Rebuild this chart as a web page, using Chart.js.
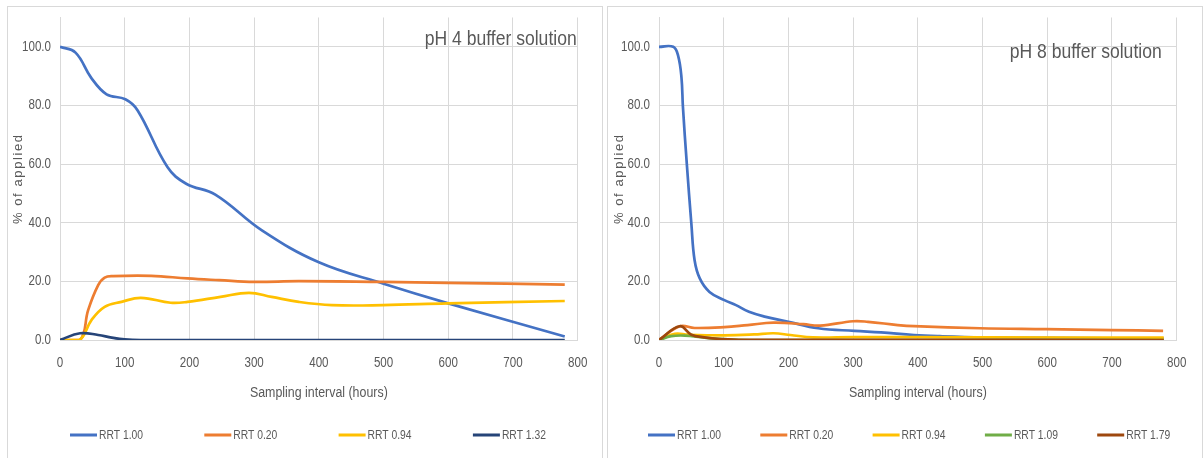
<!DOCTYPE html>
<html><head><meta charset="utf-8">
<script src="https://cdn.jsdelivr.net/npm/chart.js@4.4.0/dist/chart.umd.min.js"></script>
<style>
html,body{margin:0;padding:0;background:#fff;overflow:hidden;width:1203px;height:458px;}
.panel{position:absolute;top:6px;height:470px;border:1px solid #d9d9d9;box-sizing:border-box;background:#fff;}
#p1{left:7px;width:596px;}
#p2{left:607px;width:596px;}
canvas{position:absolute;top:0;}
#c1{left:0;}
#c2{left:604px;}
</style></head><body>
<div class="panel" id="p1"></div><div class="panel" id="p2"></div>
<canvas id="c1" width="604" height="458"></canvas>
<canvas id="c2" width="599" height="458"></canvas>
<script>
// ---------------- DATA ----------------
const xTickValues = [0, 100, 200, 300, 400, 500, 600, 700, 800];
const yTickValues = [0, 20, 40, 60, 80, 100];
const xTitle = 'Sampling interval (hours)';
const yTitle = '% of applied';
const ph4Title = 'pH 4 buffer solution';
const ph8Title = 'pH 8 buffer solution';

// pH 4
const ph4_rrt100_t = [0, 24, 48, 72, 101, 120, 166, 195, 240, 312, 400, 500, 600, 780];
const ph4_rrt100_v = [100, 98, 89.5, 83.8, 82.1, 78.3, 59, 53.3, 49.6, 37.4, 26.5, 19.2, 12.5, 1.2];
const ph4_rrt020_t = [0, 31, 43.5, 59, 69, 82, 141, 197, 246, 300, 369, 499, 599, 780];
const ph4_rrt020_v = [0, 0, 10.2, 18.7, 21.3, 21.8, 21.9, 21.0, 20.4, 19.8, 20.1, 19.8, 19.5, 18.9];
const ph4_rrt094_t = [0, 30, 48.6, 69, 95, 125, 171, 197, 248, 292, 327, 369, 420, 499, 599, 780];
const ph4_rrt094_v = [0, 0, 6.8, 11.3, 13.0, 14.4, 12.7, 13.0, 14.7, 16.1, 14.7, 13.0, 11.9, 11.9, 12.5, 13.3];
const ph4_rrt132_t = [0, 31, 59, 80, 100, 125, 780];
const ph4_rrt132_v = [0, 2.3, 1.7, 0.8, 0.2, 0, 0];

// pH 8
const ph8_rrt100_t = [0, 22, 29.5, 34.7, 37, 43, 50, 55, 63, 78, 101, 119, 139, 165, 200, 246, 302, 343, 394, 434, 500, 600, 780];
const ph8_rrt100_v = [100, 100, 97, 89.6, 79.4, 60, 39.7, 27.2, 21, 16.4, 13.6, 11.9, 9.6, 7.9, 6.2, 4.0, 3.1, 2.6, 1.7, 1.3, 0.9, 0.7, 0.5];
const ph8_rrt020_t = [0, 32, 55, 101, 137, 177, 223, 249, 300, 323, 369, 394, 496, 598, 700, 779];
const ph8_rrt020_v = [0, 4.7, 4.1, 4.4, 5.1, 5.9, 5.4, 4.9, 6.4, 6.2, 5.1, 4.7, 4.0, 3.7, 3.4, 3.1];
const ph8_rrt094_t = [0, 24.5, 45, 101, 147, 177, 203, 238, 300, 500, 780];
const ph8_rrt094_v = [0, 2.1, 1.8, 1.6, 1.9, 2.3, 1.7, 0.9, 1.0, 0.9, 0.8];
const ph8_rrt109_t = [0, 19, 40, 70, 106, 140, 780];
const ph8_rrt109_v = [0, 1.3, 1.5, 0.8, 0.2, 0, 0];
const ph8_rrt179_t = [0, 32, 50, 70, 96, 130, 780];
const ph8_rrt179_v = [0, 4.7, 1.8, 0.9, 0.35, 0.05, 0];

// ---------------- FONTS ----------------
const FAMILY = '"Liberation Sans", Arial, sans-serif';
const CONDENSE = 0.82;            // narrow rendering like the reference
const mctx = document.createElement('canvas').getContext('2d');
function textW(size, text) { mctx.font = size + 'px ' + FAMILY; return mctx.measureText(text).width; }
const tickSize = 29 / (textW(100, '100.0') / 100 * CONDENSE);
const xTitleSize = 138 / (textW(100, xTitle) / 100 * CONDENSE);
const legendSize = 13.5;
const legendCondense = 44 / textW(legendSize, 'RRT 1.00');
const chartTitleSize = 21;
const titleCondense = 152 / textW(chartTitleSize, ph4Title);
const yTitleSize = 13;
const yTitleSpacing = Math.max(0, (89 - textW(yTitleSize, yTitle)) / (yTitle.length - 1));

const TEXT = '#595959';
const GRID = '#d9d9d9';

function condenseContext(ctx) {
  const orig = ctx.fillText;
  ctx._condense = CONDENSE;
  ctx.fillText = function (text, x, y, maxWidth) {
    const f = this._condense;
    if (f === 1) { return maxWidth === undefined ? orig.call(this, text, x, y) : orig.call(this, text, x, y, maxWidth); }
    this.save();
    this.translate(x, y);
    this.scale(f, 1);
    if (maxWidth === undefined) orig.call(this, text, 0, 0); else orig.call(this, text, 0, 0, maxWidth / f);
    this.restore();
  };
}

// ---------------- PLUGIN ----------------
const decoPlugin = {
  id: 'deco',
  afterDraw(chart, args, o) {
    const ctx = chart.ctx, a = chart.chartArea;
    ctx.save();
    ctx.fillStyle = TEXT;
    ctx.font = chartTitleSize + 'px ' + FAMILY;
    ctx.textAlign = 'right'; ctx.textBaseline = 'middle';
    ctx._condense = titleCondense;
    ctx.fillText(o.title, a.right + o.titleDx, a.top + o.titleDy);
    // y axis title
    ctx.save();
    ctx.translate(o.yTitleX, (a.top + a.bottom) / 2);
    ctx.rotate(-Math.PI / 2);
    ctx.font = yTitleSize + 'px ' + FAMILY;
    try { ctx.letterSpacing = yTitleSpacing.toFixed(2) + 'px'; } catch (e) {}
    ctx.textAlign = 'center'; ctx.textBaseline = 'middle';
    ctx._condense = 1;
    ctx.fillText(yTitle, 0, 0);
    try { ctx.letterSpacing = '0px'; } catch (e) {}
    ctx.restore();
    // legend
    ctx.font = legendSize + 'px ' + FAMILY;
    ctx.textAlign = 'left'; ctx.textBaseline = 'middle';
    ctx._condense = legendCondense;
    chart.data.datasets.forEach((d, i) => {
      const x = o.legX + i * o.legStep;
      ctx.fillStyle = d.borderColor;
      ctx.fillRect(x, o.legY - 1.5, 27, 3);
      ctx.fillStyle = TEXT;
      ctx.fillText(d.label, x + 29, o.legY);
    });
    ctx._condense = CONDENSE;
    ctx.restore();
  }
};

function makeChart(id, series, o) {
  const n = series.length;
  const canvas = document.getElementById(id);
  condenseContext(canvas.getContext('2d'));
  return new Chart(canvas, {
    type: 'line',
    data: {
      datasets: series.map((s, i) => ({
        label: s.label,
        data: s.t.map((t, j) => ({ x: t, y: s.v[j] })),
        borderColor: s.color, backgroundColor: s.color,
        borderWidth: 2.7, pointRadius: 0, pointHoverRadius: 0,
        tension: 0.4, fill: false, order: n - i
      }))
    },
    options: {
      responsive: false, animation: false, events: [],
      layout: { padding: { left: 0, right: o.padRight, top: 17, bottom: 0 } },
      scales: {
        x: {
          type: 'linear', min: 0, max: 800,
          afterBuildTicks: s => { s.ticks = xTickValues.map(v => ({ value: v })); },
          ticks: { color: TEXT, font: { family: FAMILY, size: tickSize }, padding: 23 - tickSize * 0.6, maxRotation: 0, autoSkip: false, callback: v => String(v) },
          grid: { color: GRID, drawTicks: false, lineWidth: 1 },
          border: { color: GRID },
          title: { display: true, text: xTitle, color: TEXT, font: { family: FAMILY, size: xTitleSize }, padding: { top: 0, bottom: 65 - xTitleSize * 0.6 } },
          afterFit: s => { s.height = 118; }
        },
        y: {
          type: 'linear', min: 0, max: 110,
          afterBuildTicks: s => { s.ticks = yTickValues.map(v => ({ value: v })); },
          ticks: { color: TEXT, font: { family: FAMILY, size: tickSize }, padding: 9, callback: v => Number(v).toFixed(1) },
          grid: { color: GRID, drawTicks: false, lineWidth: 1 },
          border: { color: GRID },
          afterFit: s => { s.width = o.yWidth; }
        }
      },
      plugins: {
        legend: { display: false }, tooltip: { enabled: false },
        deco: o.deco
      }
    },
    plugins: [decoPlugin]
  });
}

makeChart('c1', [
  { label: 'RRT 1.00', color: '#4472C4', t: ph4_rrt100_t, v: ph4_rrt100_v },
  { label: 'RRT 0.20', color: '#ED7D31', t: ph4_rrt020_t, v: ph4_rrt020_v },
  { label: 'RRT 0.94', color: '#FFC000', t: ph4_rrt094_t, v: ph4_rrt094_v },
  { label: 'RRT 1.32', color: '#264478', t: ph4_rrt132_t, v: ph4_rrt132_v }
], { padRight: 23, yWidth: 60,
     deco: { title: ph4Title, titleDx: -1, titleDy: 22, yTitleX: 18.5, legX: 70, legStep: 134.3, legY: 435 } });

makeChart('c2', [
  { label: 'RRT 1.00', color: '#4472C4', t: ph8_rrt100_t, v: ph8_rrt100_v },
  { label: 'RRT 0.20', color: '#ED7D31', t: ph8_rrt020_t, v: ph8_rrt020_v },
  { label: 'RRT 0.94', color: '#FFC000', t: ph8_rrt094_t, v: ph8_rrt094_v },
  { label: 'RRT 1.09', color: '#70AD47', t: ph8_rrt109_t, v: ph8_rrt109_v },
  { label: 'RRT 1.79', color: '#9E480E', t: ph8_rrt179_t, v: ph8_rrt179_v }
], { padRight: 21, yWidth: 55,
     deco: { title: ph8Title, titleDx: -15, titleDy: 35, yTitleX: 15, legX: 44, legStep: 112.3, legY: 435 } });
</script>
</body></html>
